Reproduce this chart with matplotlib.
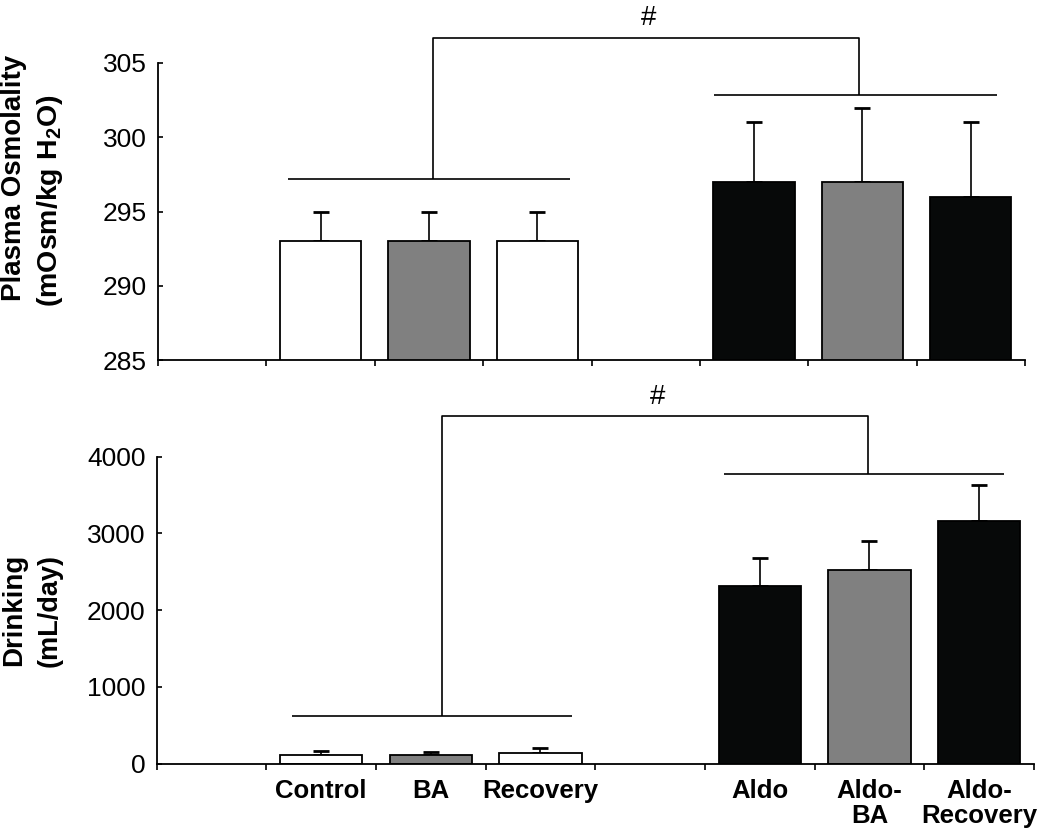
import matplotlib
matplotlib.use('Agg')
import matplotlib.pyplot as plt
import numpy as np

plt.rcParams['font.family'] = ['Liberation Sans', 'DejaVu Sans']
plt.rcParams['mathtext.fontset'] = 'custom'
plt.rcParams['mathtext.rm'] = 'Liberation Sans'
plt.rcParams['mathtext.bf'] = 'Liberation Sans:bold'

# 8 category slots; empty strings are gaps on the axis
categories = ['', 'Control', 'BA', 'Recovery', '', 'Aldo', 'Aldo-\nBA', 'Aldo-\nRecovery']
osm_mean = [np.nan, 293, 293, 293, np.nan, 297, 297, 296]
osm_err = [np.nan, 2, 2, 2, np.nan, 4, 5, 5]
drink_mean = [np.nan, 115, 108, 140, np.nan, 2310, 2520, 3160]
drink_err = [np.nan, 50, 40, 62, np.nan, 375, 380, 465]
bar_colors = ['white', 'white', '#808080', 'white', 'white', '#070909', '#808080', '#070909']

# significance brackets (annotation layout)
osm_bracket = dict(lx=(1.20, 3.80), ly=297.2, lv=2.535, rx=(5.13, 7.74), ry=302.85, rv=6.47, top=306.7, hash_y=307.15)
drink_bracket = dict(lx=(1.235, 3.79), ly=620, lv=2.60, rx=(5.17, 7.73), ry=3780, rv=6.49, top=4535, hash_y=4610)

fig = plt.figure(figsize=(10.5, 8.4), dpi=100)
ax1 = fig.add_axes([158 / 1050, 480 / 840, 867 / 1050, 297 / 840])
ax2 = fig.add_axes([156.5 / 1050, 76.5 / 840, 877.5 / 1050, 306.8 / 840])

x = np.arange(len(categories)) + 0.5


def draw(ax, means, errs, ylim, yticks, br):
    ax.bar(x, means, width=0.75, color=bar_colors, edgecolor='black', linewidth=1.3, zorder=2)
    lower = [0 if not np.isnan(e) else np.nan for e in errs]
    ax.errorbar(x, means, yerr=[lower, errs], fmt='none', ecolor='black',
                elinewidth=1.2, capsize=5.7, capthick=2.0, zorder=1)
    ax.set_xlim(0, 8)
    ax.set_ylim(*ylim)
    ax.set_yticks(yticks)
    ax.spines['top'].set_visible(False)
    ax.spines['right'].set_visible(False)
    for s in ('left', 'bottom'):
        ax.spines[s].set_linewidth(1.3)
    ax.tick_params(axis='y', direction='in', length=3.5, width=1.2, labelsize=19, pad=8)
    ax.set_xticks(np.arange(0, 9), minor=True)
    ax.tick_params(axis='x', which='minor', direction='out', length=4, width=1.2)
    # brackets
    kw = dict(color='black', lw=1.2, clip_on=False, solid_capstyle='butt')
    ax.plot(br['lx'], [br['ly'], br['ly']], **kw)
    ax.plot(br['rx'], [br['ry'], br['ry']], **kw)
    ax.plot([br['lv'], br['lv'], br['rv'], br['rv']],
            [br['ly'], br['top'], br['top'], br['ry']], **kw)
    ax.text((br['lv'] + br['rv']) / 2 + 0.02, br['hash_y'], '#', ha='center', va='bottom',
            fontsize=20, clip_on=False)


draw(ax1, osm_mean, osm_err, (285, 305), [285, 290, 295, 300, 305], osm_bracket)
draw(ax2, drink_mean, drink_err, (0, 4000), [0, 1000, 2000, 3000, 4000], drink_bracket)

ax1.set_xticks(x)
ax1.set_xticklabels([])
ax1.tick_params(axis='x', which='major', length=0)

ax2.set_xticks(x)
ax2.set_xticklabels(categories, fontsize=18.5, fontweight='bold', linespacing=1.05)
ax2.tick_params(axis='x', which='major', length=0, pad=11)

fig.text(0.013, 0.788, 'Plasma Osmolality', rotation=90, ha='center', va='center',
         fontsize=20, fontweight='bold')
fig.text(0.048, 0.761, r'(mOsm/kg H$_\mathbf{2}$O)', rotation=90, ha='center', va='center',
         fontsize=20.5, fontweight='bold')
fig.text(0.013, 0.274, 'Drinking', rotation=90, ha='center', va='center',
         fontsize=20, fontweight='bold')
fig.text(0.047, 0.273, '(mL/day)', rotation=90, ha='center', va='center',
         fontsize=19.5, fontweight='bold')

fig.savefig('out.png', dpi=100)
